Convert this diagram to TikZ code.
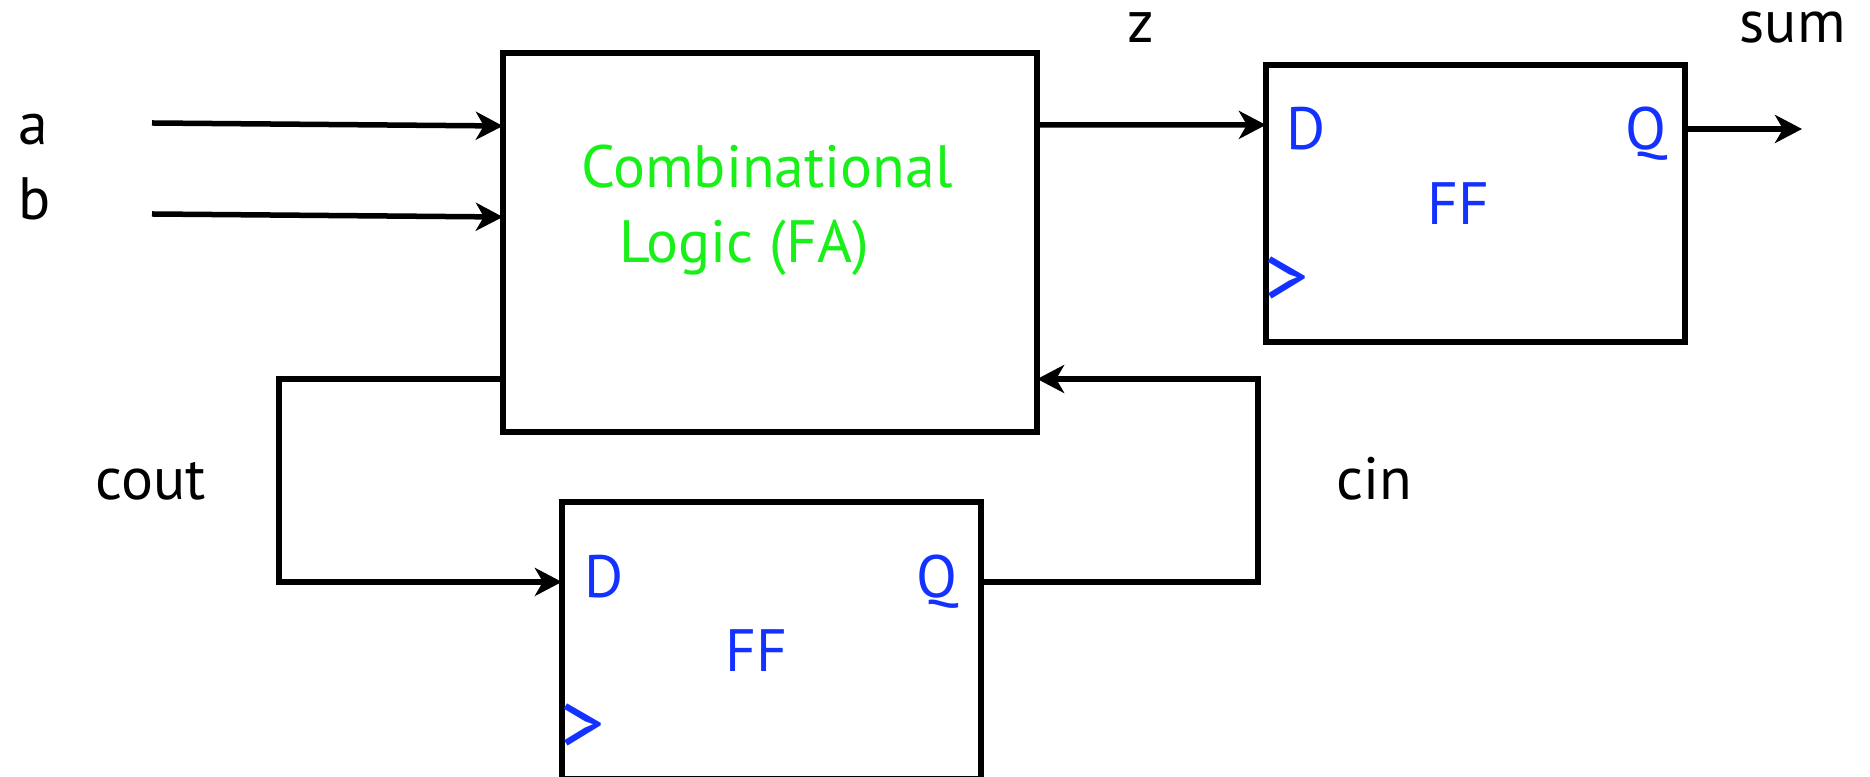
\documentclass[tikz,border=0pt]{standalone}
\usepackage{fontspec}
\setmainfont{PT Sans}
\usetikzlibrary{positioning,arrows.meta,calc}
\definecolor{logicgreen}{RGB}{25,240,25}
\definecolor{ffblue}{RGB}{20,50,255}

\begin{document}
\begin{tikzpicture}[x=0.01cm, y=-0.01cm, font=\fontsize{17pt}{20pt}\selectfont,
  >={Stealth[length=0.27cm, width=0.28cm, inset=0.08cm]},
  blk/.style={draw, line width=0.055cm, inner sep=0pt, outer sep=0pt},
  wire/.style={line width=0.055cm},
  lbl/.style={inner sep=0pt, anchor=base west},
  pin/.style={inner sep=0pt, text=ffblue},
  clk/.style={pin, anchor=west, font=\fontsize{25pt}{28pt}\selectfont},
  cltext/.style={inner sep=0pt, anchor=base, text=logicgreen}]
\useasboundingbox (0,0) rectangle (1870,777);
% blocks
\node[blk, minimum width=5.34cm, minimum height=3.79cm] (cl) at (770,242.5) {};
\node[blk, minimum width=4.19cm, minimum height=2.77cm] (ff1) at (1475.5,203.5) {};
\node[blk, minimum width=4.19cm, minimum height=2.77cm] (ff2) at (771.5,640.5) {};
\node[cltext] (cltop) at (767,188) {Combinational};
\node[cltext] (clbot) at (744,263) {Logic (FA)};
% flip-flop pins
\node[pin, anchor=base west] (dA) at (1286,150) {D};
\node[pin, anchor=base east] (qA) at (1667,150) {Q};
\node[pin, anchor=base] (fA) at (1458,225) {FF};
\node[clk] (kA) at (1264,282) {>};
\node[pin, anchor=base west] (dB) at (584,598) {D};
\node[pin, anchor=base east] (qB) at (958,598) {Q};
\node[pin, anchor=base] (fB) at (756,672) {FF};
\node[clk] (kB) at (560,729) {>};
% signal names
\node[lbl] (la) at (18,145) {a};
\node[lbl] (lb) at (18,220) {b};
\node[lbl] (lz) at (1127,43) {z};
\node[lbl] (lsum) at (1739,43) {sum};
\node[lbl] (lcout) at (95,500) {cout};
\node[lbl] (lcin) at (1336,500) {cin};
% wires
\coordinate (ain) at (152,123);
\coordinate (bin) at (152,214);
\coordinate (sumout) at (1802,129);
\coordinate (coutbend) at (279,379);
\coordinate (cinbend) at (1258,379);
\draw[wire,->] (ain) -- ($(ain -| cl.west)+(0,3)$);
\draw[wire,->] (bin) -- ($(bin -| cl.west)+(0,3)$);
\draw[wire,->] ($(cl.north east)+(0,72)$) -- ($(ff1.north west)+(0,60)$);
\draw[wire,->] (ff1.east |- sumout) -- (sumout);
\draw[wire,->] (cl.west |- coutbend) -- (coutbend) |- ($(ff2.north west)+(0,80)$);
\draw[wire,->] ($(ff2.north east)+(0,80)$) -| (cinbend) -- (cinbend -| cl.east);
\end{tikzpicture}
\end{document}
